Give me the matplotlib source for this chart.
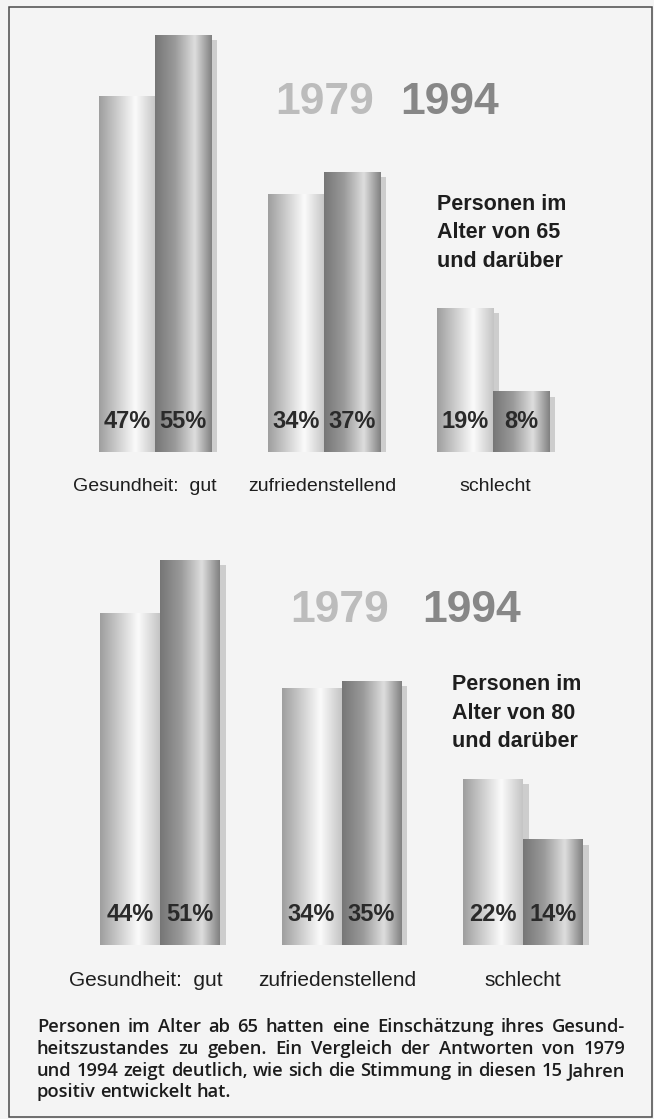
import numpy as np
import matplotlib
matplotlib.use("Agg")
import matplotlib.pyplot as plt
from matplotlib import font_manager
from matplotlib.colors import LinearSegmentedColormap
from matplotlib.patches import Rectangle
from matplotlib.transforms import offset_copy, ScaledTranslation

# ---- data ----
categories = ["Gesundheit:  gut", "zufriedenstellend", "schlecht"]
years = ["1979", "1994"]
age65_1979 = [47, 34, 19]
age65_1994 = [55, 37, 8]
age80_1979 = [44, 34, 22]
age80_1994 = [51, 35, 14]
title_65 = ["Personen im", "Alter von 65", "und darüber"]
title_80 = ["Personen im", "Alter von 80", "und darüber"]
caption_lines = [
    "Personen im Alter ab 65 hatten eine Einschätzung ihres Gesund-",
    "heitszustandes zu geben. Ein Vergleich der Antworten von 1979",
    "und 1994 zeigt deutlich, wie sich die Stimmung in diesen 15 Jahren",
    "positiv entwickelt hat.",
]

W, H = 654, 1119
BG = "#f4f4f4"

installed = {f.name for f in font_manager.fontManager.ttflist}
if "Liberation Sans Narrow" in installed:
    year_font, year_size = "Liberation Sans Narrow", 36
else:
    year_font, year_size = "Liberation Sans", 32

light_cmap = LinearSegmentedColormap.from_list(
    "light", [(0, "#9e9e9e"), (0.64, "#fbfbfb"), (1, "#c4c4c4")])
dark_cmap = LinearSegmentedColormap.from_list(
    "dark", [(0, "#767676"), (0.35, "#9a9a9a"), (0.7, "#dedede"), (1, "#808080")])
gradient = np.linspace(0, 1, 256).reshape(1, -1)


def px_box(left, top, right, bottom):
    return [left / W, 1 - bottom / H, (right - left) / W, (bottom - top) / H]


def fx(x):
    return x / W


def fy(y):
    return 1 - y / H


def draw_panel(fig, box, xlim, width, vals_a, vals_b, label_size, label_shift):
    ax = fig.add_axes(box)
    ax.set_facecolor("none")
    x = np.arange(len(categories))
    shadow_tr = offset_copy(ax.transData, fig=fig, x=4.3, y=-3.8, units="points")

    for vals, pos in ((vals_a, x - width / 2), (vals_b, x + width / 2)):
        ax.bar(pos, vals, width=width, color="#cdcdcd", lw=0,
               transform=shadow_tr, zorder=1)
    # hatched floor under each pair
    ax.bar(x, [-0.7] * len(x), width=2 * width, color="#dedede",
           hatch="||||||", edgecolor="#b4b4b4", lw=0,
           transform=shadow_tr, zorder=1.5)

    for vals, pos, cmap in ((vals_a, x - width / 2, light_cmap),
                            (vals_b, x + width / 2, dark_cmap)):
        bars = ax.bar(pos, vals, width=width, color="none", lw=0, zorder=2)
        for b, v in zip(bars, vals):
            im = ax.imshow(gradient, cmap=cmap, aspect="auto",
                           extent=(b.get_x(), b.get_x() + b.get_width(),
                                   0, b.get_height()),
                           interpolation="bicubic", zorder=2)
            im.set_clip_path(b)
            ax.annotate(f"{v}%", xy=(b.get_x() + b.get_width() / 2, 0),
                        xytext=(0, 17), textcoords="offset points",
                        ha="center", va="baseline", fontsize=17,
                        fontweight="bold", color="#2a2a2a",
                        family="Liberation Sans", zorder=3)

    ax.set_xlim(*xlim)
    ax.set_ylim(0, 59)
    ax.set_xticks(x)
    ax.set_xticklabels(categories, family="Liberation Sans",
                       fontsize=label_size, color="#1e1e1e")
    ax.tick_params(axis="x", length=0, pad=19)
    # the print sets the labels slightly left of the bar pairs
    for lab, dx in zip(ax.get_xticklabels(), label_shift):
        lab.set_transform(lab.get_transform()
                          + ScaledTranslation(dx / 100, 0, fig.dpi_scale_trans))
    ax.set_yticks([])
    for s in ax.spines.values():
        s.set_visible(False)
    return ax


def justified(fig, lines, left, right, baselines, size):
    renderer = fig.canvas.get_renderer()
    props = dict(family="Open Sans", fontweight="semibold", fontsize=size,
                 color="#1c1c1c", va="baseline", ha="left")
    space = fig.text(0, 0, "a a", **props)
    single = fig.text(0, 0, "aa", **props)
    sp = (space.get_window_extent(renderer).width
          - single.get_window_extent(renderer).width)
    space.remove()
    single.remove()
    for i, (line, yb) in enumerate(zip(lines, baselines)):
        words = line.split(" ")
        items = [fig.text(0, fy(yb), w, **props) for w in words]
        widths = [t.get_window_extent(renderer).width for t in items]
        last = i == len(lines) - 1
        gap = sp if last else (right - left - sum(widths)) / (len(words) - 1)
        xpos = left
        for t, wdt in zip(items, widths):
            t.set_x(fx(xpos))
            xpos += wdt + gap


fig = plt.figure(figsize=(W / 100, H / 100), dpi=100, facecolor=BG)

# upper panel: baseline 452 px, 7.58 px per percent
sc = 7.58
draw_panel(fig, px_box(0, 452 - 59 * sc, W, 452),
           (-155 / 169, (W - 155) / 169), 0.334, age65_1979, age65_1994, 14,
           (-10, -2, 2))
# lower panel: baseline 945 px
sc = 7.55
draw_panel(fig, px_box(0, 945 - 59 * sc, W, 945),
           (-160 / 181.5, (W - 160) / 181.5), 0.33, age80_1979, age80_1994, 15,
           (-14, -4, 0))

# year legends
for (x1, x2, y) in ((325, 450, 103), (340, 472, 610)):
    fig.text(fx(x1), fy(y), years[0], family=year_font, fontweight="bold",
             fontsize=year_size, color="#bcbcbc", ha="center", va="center")
    fig.text(fx(x2), fy(y), years[1], family=year_font, fontweight="bold",
             fontsize=year_size, color="#878787", ha="center", va="center")

# panel titles
for lines, x0, bases in ((title_65, 437, (210, 238.5, 267)),
                         (title_80, 452, (690, 719, 747))):
    for line, yb in zip(lines, bases):
        fig.text(fx(x0), fy(yb), line, family="Liberation Sans",
                 fontweight="bold", fontsize=15.5, color="#1e1e1e",
                 ha="left", va="baseline")

# caption, justified like the print
renderer = fig.canvas.get_renderer()
probe = fig.text(0, 0, caption_lines[2], family="Open Sans",
                 fontweight="semibold", fontsize=11)
cap_size = 11 * 586 / probe.get_window_extent(renderer).width
probe.remove()
justified(fig, caption_lines, 37, 625, (1032, 1054, 1076, 1097), cap_size)

# frame of the figure box
fig.patches.append(Rectangle((fx(9), fy(1117)), fx(652) - fx(9),
                             fy(7) - fy(1117), transform=fig.transFigure,
                             fill=False, lw=1.1, edgecolor="#4a4a4a"))

fig.savefig("out.png", dpi=100, facecolor=BG)
